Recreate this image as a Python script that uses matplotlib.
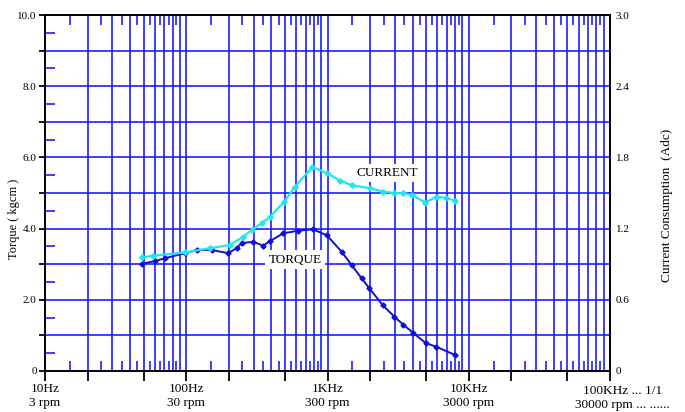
import numpy as np
import matplotlib
matplotlib.use("Agg")
import matplotlib.pyplot as plt
from matplotlib.ticker import FixedLocator, NullFormatter

plt.rcParams['font.family'] = ['Liberation Serif', 'DejaVu Serif']

# --- data ---
torque_freq = [48.6, 60, 71, 98, 119, 151, 198, 227, 247, 298, 351, 392, 487, 621,
               789, 991, 1259, 1479, 1746, 1982, 2459, 2967, 3441, 4011, 4980, 5910, 7996]
torque_kgcm = [3.01, 3.09, 3.17, 3.31, 3.40, 3.40, 3.31, 3.45, 3.59, 3.63, 3.52, 3.65, 3.87, 3.94,
               3.98, 3.81, 3.35, 2.98, 2.60, 2.32, 1.85, 1.53, 1.30, 1.08, 0.78, 0.68, 0.45]

current_freq = [48.4, 58.3, 98, 147, 204, 253, 290, 342, 392, 494, 589, 783, 987, 1225,
                1479, 2000, 2485, 2958, 3441, 3965, 4940, 5910, 6900, 8000]
current_adc = [0.957, 0.972, 0.999, 1.035, 1.062, 1.131, 1.188, 1.245, 1.299, 1.428, 1.554,
               1.719, 1.668, 1.605, 1.566, 1.539, 1.512, 1.50, 1.50, 1.482, 1.419, 1.47,
               1.458, 1.434]

decade_labels = ["10Hz\n3 rpm", "100Hz\n30 rpm", "1KHz\n300 rpm", "10KHz\n3000 rpm"]
last_label = "100KHz ... 1/1\n30000 rpm ... ......"
left_ticks = ["0", "2.0", "4.0", "6.0", "8.0", "10.0"]
right_ticks = ["0", "0.6", "1.2", "1.8", "2.4", "3.0"]

GRID = '#1414ff'
CYAN = '#22e6ee'
DARK = '#1010d8'

fig = plt.figure(figsize=(6.85, 4.12), dpi=100)
ax = fig.add_axes([45/685, 41/412, 565/685, 356/412])
ax.set_xscale('log')
ax.set_xlim(10, 1e5)
ax.set_ylim(0, 10)

# vertical grid: every 1..9 multiple in each decade
decades = [10, 100, 1000, 10000]
for d in decades:
    for m in range(1, 10):
        f = d * m
        if 10 < f < 1e5:
            ax.axvline(f, color=GRID, lw=1.15, zorder=1)
# horizontal grid every 1.0
for yv in range(1, 10):
    ax.axhline(yv, color=GRID, lw=1.15, zorder=1)

# x ticks: black 1-2-5 outward, blue x.5 inward
major_x = [d * m for d in decades for m in (1, 2, 5)] + [1e5]
minor_x = [d * (m + 0.5) for d in decades for m in range(1, 9)]
ax.xaxis.set_major_locator(FixedLocator(major_x))
ax.xaxis.set_minor_locator(FixedLocator(minor_x))
ax.xaxis.set_minor_formatter(NullFormatter())
ax.set_xticklabels([decade_labels[decades.index(t)] if t in decades else "" for t in major_x])

ax.yaxis.set_major_locator(FixedLocator(range(0, 11)))
ax.yaxis.set_minor_locator(FixedLocator([v + 0.5 for v in range(10)]))
ax.set_yticklabels([left_ticks[v // 2] if v % 2 == 0 else "" for v in range(11)])

ax.tick_params(axis='x', which='major', direction='out', length=7, width=1.3,
               color='black', labelsize=9.5, pad=2, top=False)
ax.tick_params(axis='x', which='minor', direction='in', length=7, width=1.15,
               color=GRID, top=True, bottom=True)
ax.tick_params(axis='y', which='major', direction='out', length=4, width=1.3,
               color='black', labelsize=8, pad=2)
ax.tick_params(axis='y', which='minor', direction='in', length=7, width=1.15,
               color=GRID, left=True, right=True)

for s in ax.spines.values():
    s.set_linewidth(1.4)
    s.set_color('black')
    s.set_zorder(3)

ax.annotate(last_label, xy=(1e5, 0), xycoords=('data', 'axes fraction'),
            xytext=(9, -10), textcoords='offset points', ha='center', va='top',
            fontsize=9.5, linespacing=1.2, annotation_clip=False)

ax2 = ax.twinx()
ax2.set_ylim(0, 3)
ax2.set_yticks([0, 0.6, 1.2, 1.8, 2.4, 3.0])
ax2.set_yticklabels(right_ticks)
ax2.tick_params(axis='y', length=0, labelsize=8, pad=4)
for s in ax2.spines.values():
    s.set_visible(False)

ax.plot(torque_freq, torque_kgcm, color=DARK, lw=1.4, marker='D', ms=2.6, zorder=4)
ax2.plot(current_freq, current_adc, color=CYAN, lw=1.6, marker='D', ms=2.8, zorder=4)

ax.text(2636, 5.56, "CURRENT", ha='center', va='center', fontsize=9.5, zorder=6,
        bbox=dict(facecolor='white', edgecolor='none', pad=2.5))
ax.text(589, 3.13, "TORQUE", ha='center', va='center', fontsize=9.5, zorder=6,
        bbox=dict(facecolor='white', edgecolor='none', pad=2.5))

fig.text(14/685, 1 - 219/412, "Torque ( kgcm )", rotation=90, ha='center', va='center',
         fontsize=9)
fig.text(667/685, 1 - 205/412, "Current Consumption  (Adc)", rotation=90, ha='center',
         va='center', fontsize=9.5)

fig.savefig("out.png", dpi=100)
